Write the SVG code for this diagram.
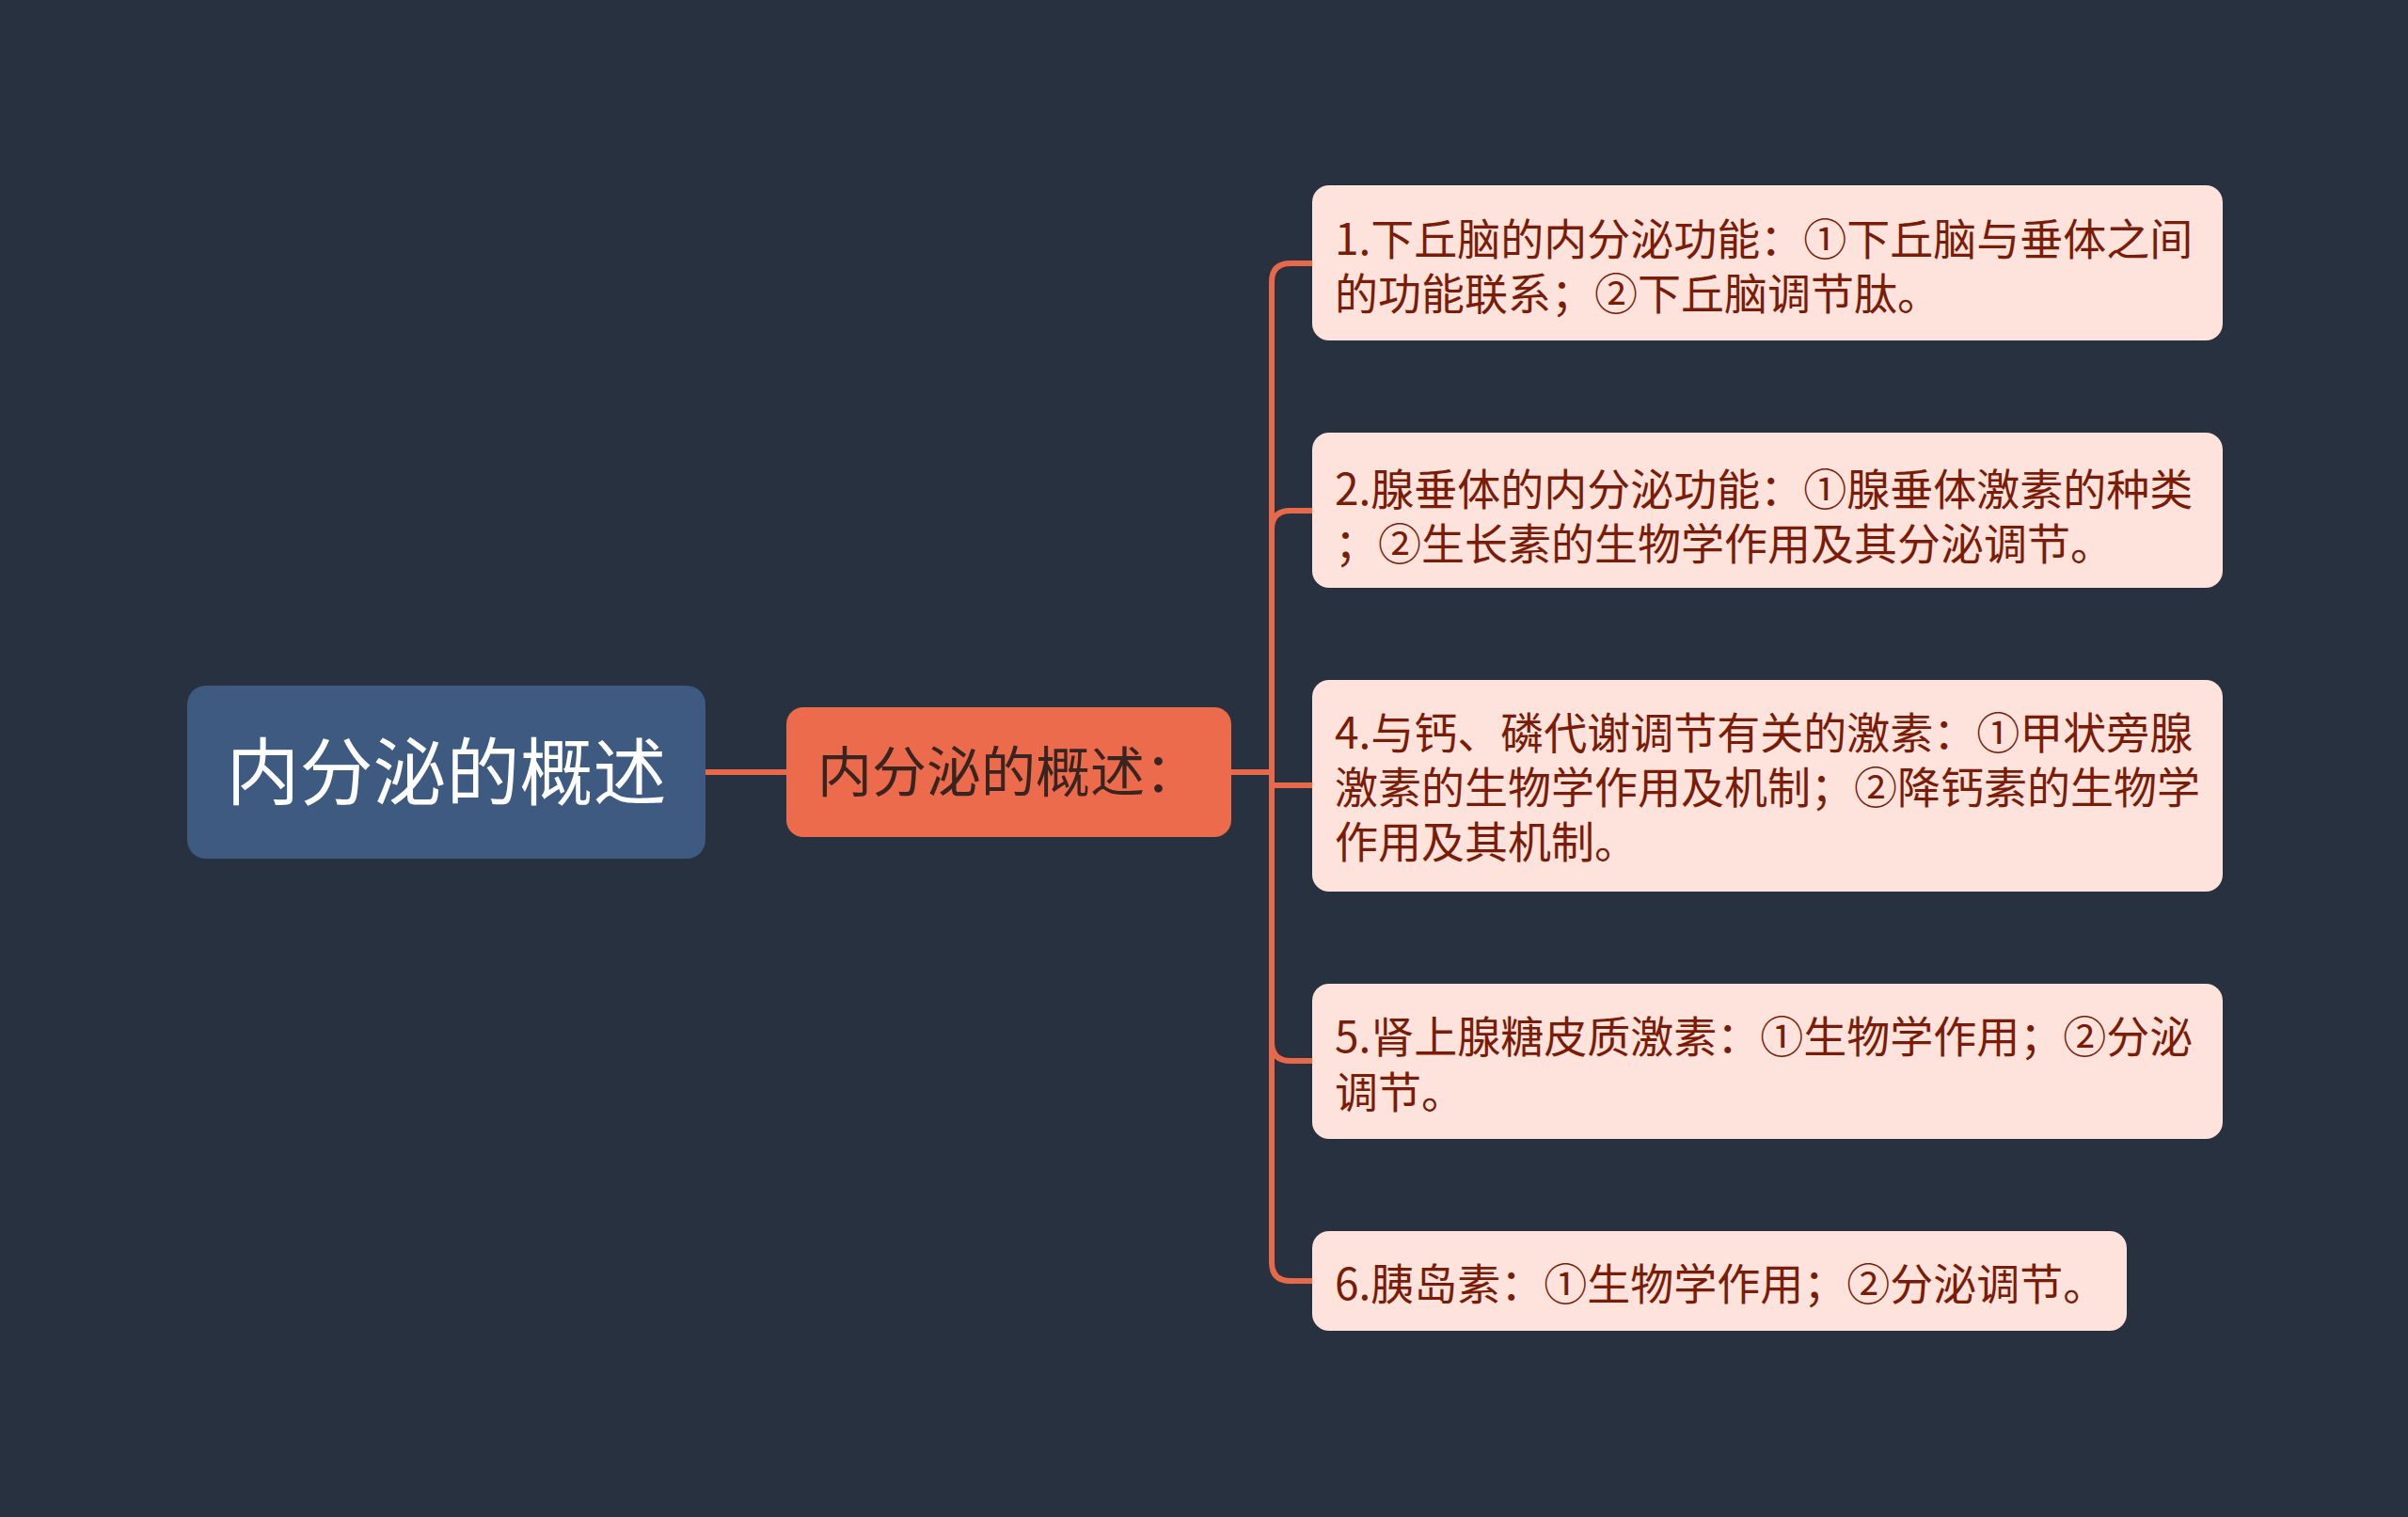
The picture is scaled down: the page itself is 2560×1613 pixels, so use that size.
<svg xmlns="http://www.w3.org/2000/svg" width="2560" height="1613" viewBox="0 0 2560 1613">
<style>
.bg{fill:#283140}
.conn{fill:none;stroke:#e8694a;stroke-width:6;stroke-linecap:round;stroke-linejoin:round}
.leaf rect{fill:#fde3dc}
.leaf text{font-family:"Noto Sans CJK SC","Noto Sans",sans-serif;font-size:46px;fill:#7a1c08}
.t{font-family:"Noto Sans CJK SC","Noto Sans",sans-serif}
</style>
<rect class="bg" x="0" y="0" width="2560" height="1613"/>
<g id="connectors">
<path class="conn" d="M750 821 H836"/>
<path class="conn" d="M1309 821 H1352 V300 Q1352 280 1372 280 H1396"/>
<path class="conn" d="M1352 563 Q1352 543 1372 543 H1396"/>
<path class="conn" d="M1309 821 H1352 V835 H1396"/>
<path class="conn" d="M1309 821 H1352 V1108 Q1352 1128 1372 1128 H1396"/>
<path class="conn" d="M1352 821 V1342 Q1352 1362 1372 1362 H1396"/>
</g>
<g id="root">
<rect x="199" y="729" width="551" height="184" rx="20" fill="#3e5a80"/>
<text class="t" x="474.5" y="850" font-size="78" fill="#ffffff" text-anchor="middle">内分泌的概述</text>
</g>
<g id="mid">
<rect x="836" y="752" width="473" height="138" rx="18" fill="#ec6b4d"/>
<text class="t" x="869" y="842" font-size="58" fill="#3a2420">内分泌的概述：</text>
</g>
<g id="leaf1" class="leaf">
<rect x="1395" y="197" width="968" height="165" rx="18"/>
<text x="1419" y="271">1.下丘脑的内分泌功能：①下丘脑与垂体之间<tspan x="1419" y="329">的功能联系；②下丘脑调节肽。</tspan></text>
</g>
<g id="leaf2" class="leaf">
<rect x="1395" y="460" width="968" height="165" rx="18"/>
<text x="1419" y="537">2.腺垂体的内分泌功能：①腺垂体激素的种类<tspan x="1419" y="595">；②生长素的生物学作用及其分泌调节。</tspan></text>
</g>
<g id="leaf3" class="leaf">
<rect x="1395" y="723" width="968" height="225" rx="18"/>
<text x="1419" y="796">4.与钙、磷代谢调节有关的激素：①甲状旁腺<tspan x="1419" y="854">激素的生物学作用及机制；②降钙素的生物学</tspan><tspan x="1419" y="912">作用及其机制。</tspan></text>
</g>
<g id="leaf4" class="leaf">
<rect x="1395" y="1046" width="968" height="165" rx="18"/>
<text x="1419" y="1119">5.肾上腺糖皮质激素：①生物学作用；②分泌<tspan x="1419" y="1178">调节。</tspan></text>
</g>
<g id="leaf5" class="leaf">
<rect x="1395" y="1309" width="866" height="106" rx="18"/>
<text x="1419" y="1382">6.胰岛素：①生物学作用；②分泌调节。</text>
</g>
</svg>
